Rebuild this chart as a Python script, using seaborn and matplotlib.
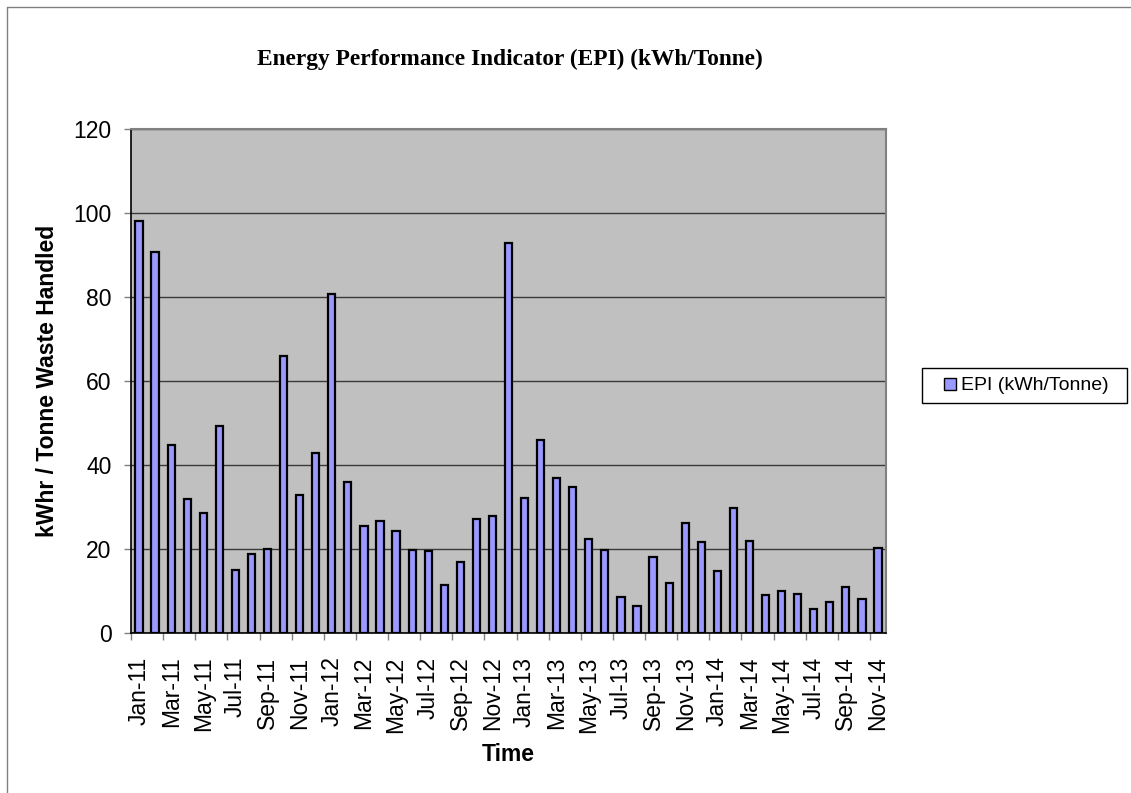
import matplotlib
matplotlib.use("Agg")
import matplotlib.pyplot as plt
from matplotlib.lines import Line2D
from matplotlib.patches import Rectangle
import seaborn as sns
import pandas as pd
import numpy as np

months = ["Jan", "Feb", "Mar", "Apr", "May", "Jun", "Jul", "Aug", "Sep", "Oct", "Nov", "Dec"]
categories = [f"{m}-{y}" for y in ["11", "12", "13", "14"] for m in months][:47]

epi_values = [98.0, 90.8, 44.8, 31.8, 28.6, 49.4, 15.0, 18.7, 20.1, 65.9, 32.9, 42.8,
              80.7, 35.9, 25.4, 26.7, 24.4, 19.7, 19.6, 11.35, 16.9, 27.1, 27.9, 92.9,
              32.1, 45.9, 36.9, 34.7, 22.5, 19.7, 8.65, 6.5, 18.0, 11.9, 26.3, 21.7,
              14.8, 29.8, 21.8, 9.1, 9.9, 9.3, 5.8, 7.5, 10.9, 8.2, 20.3]

series_name = "EPI (kWh/Tonne)"
title = "Energy Performance Indicator (EPI) (kWh/Tonne)"
y_label = "kWhr / Tonne Waste Handled"
x_label = "Time"
y_ticks = [0, 20, 40, 60, 80, 100, 120]

df = pd.DataFrame({"Month": categories, "EPI": epi_values})

sns.set_theme(style="white")
plt.rcParams["font.family"] = ["Liberation Sans", "DejaVu Sans"]
plt.rcParams["text.color"] = "black"
plt.rcParams["axes.labelcolor"] = "black"
plt.rcParams["xtick.color"] = "black"
plt.rcParams["ytick.color"] = "black"

W, H = 1131, 793
fig = plt.figure(figsize=(W / 100, H / 100), dpi=100)
ax = fig.add_axes([131 / W, 1 - 633 / H, (886 - 131) / W, (633 - 129) / H])
ax.set_facecolor("#C0C0C0")

sns.barplot(data=df, x="Month", y="EPI", color="#9999FF", edgecolor="black",
            linewidth=1.6, width=0.45, saturation=1, ax=ax, zorder=3)

ax.set_ylim(0, 120)
ax.set_xlim(-0.5, len(categories) - 0.5)
ax.set_yticks(y_ticks)
ax.set_yticklabels([str(t) for t in y_ticks], fontsize=16.5)
ax.yaxis.grid(True, color="#3a3a3a", linewidth=1.0, zorder=0)
ax.set_axisbelow(True)

idx = np.arange(0, len(categories), 2)
ax.set_xticks(idx)
ax.set_xticklabels([categories[i] for i in idx], rotation=90, fontsize=16.5)
ax.set_xticks(np.arange(-0.5, len(categories), 2), minor=True)
ax.tick_params(axis="x", which="major", length=0, pad=17, labelcolor="black")
ax.tick_params(axis="x", which="minor", length=5, color="#808080", width=1, direction="out", bottom=True)
ax.tick_params(axis="y", which="major", length=5, color="#808080", width=1, direction="out",
               left=True, pad=9, labelcolor="black")

for side in ["top", "right"]:
    ax.spines[side].set_color("#808080")
    ax.spines[side].set_linewidth(1.5)
for side in ["left", "bottom"]:
    ax.spines[side].set_color("black")
    ax.spines[side].set_linewidth(1.2)

ax.set_xlabel(x_label, fontsize=16.5, fontweight="bold", labelpad=7, color="black")
ax.set_ylabel(y_label, fontsize=16.5, fontweight="bold", labelpad=10.5, color="black")

fig.text(0.451, 1 - 59 / H, title, ha="center", va="center", fontsize=16.8,
         fontweight="bold", family=["Liberation Serif", "DejaVu Serif"], color="black")

# legend: frame drawn as a figure rectangle, entry as a legend
fig.add_artist(Rectangle((922 / W, 1 - 403 / H), (1127 - 922) / W, (403 - 368) / H,
                         transform=fig.transFigure, facecolor="white", edgecolor="black",
                         linewidth=1.0, zorder=1))
handle = Line2D([], [], linestyle="none", marker="s", markersize=9.2,
                markerfacecolor="#9999FF", markeredgecolor="black", markeredgewidth=1.0,
                label=series_name)
leg = fig.legend(handles=[handle], loc="center left", bbox_to_anchor=(940 / W, 1 - 385.5 / H),
                 frameon=False, fontsize=14, handlelength=1.0, handletextpad=0.1,
                 borderpad=0, borderaxespad=0)
leg.set_zorder(2)
for t in leg.get_texts():
    t.set_color("black")

fig.add_artist(Line2D([7 / W, 7 / W], [0, 1 - 7 / H], color="#808080", linewidth=1.0,
                      transform=fig.transFigure))
fig.add_artist(Line2D([7 / W, 1], [1 - 7 / H, 1 - 7 / H], color="#808080", linewidth=1.0,
                      transform=fig.transFigure))

fig.savefig("out.png", dpi=100)
